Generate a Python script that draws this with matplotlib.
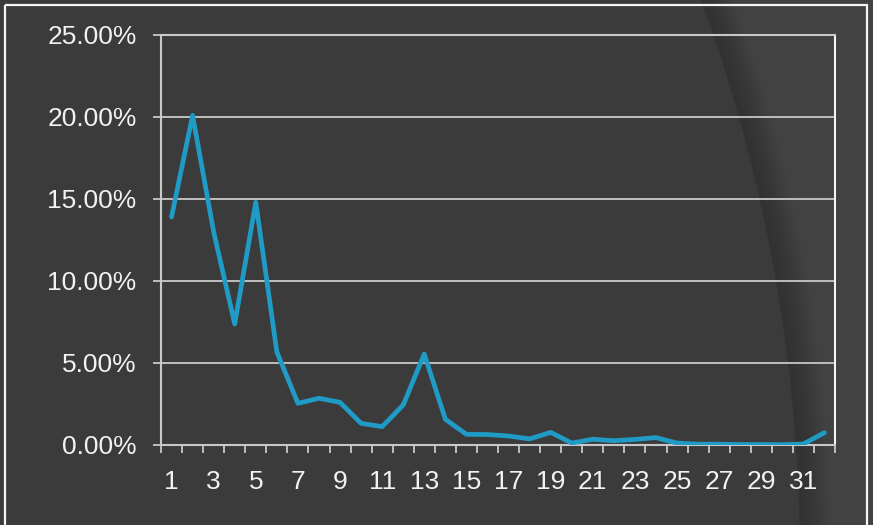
import numpy as np
import matplotlib
matplotlib.use("Agg")
import matplotlib.pyplot as plt
from matplotlib.patches import Circle, Rectangle
from matplotlib.ticker import FuncFormatter, FixedLocator


# ==============================
# DATA
# ==============================
categories = list(range(1, 33))
share = [
    0.1390, 0.2010, 0.1300, 0.0738, 0.1480, 0.0568, 0.0254, 0.0285,
    0.0260, 0.0132, 0.0112, 0.0244, 0.0555, 0.0157, 0.0065, 0.0064,
    0.0055, 0.0037, 0.0077, 0.0012, 0.0035, 0.0026, 0.0034, 0.0045,
    0.0012, 0.0005, 0.0005, 0.0003, 0.0003, 0.0002, 0.0006, 0.0075,
]
x_labels = [str(c) for c in categories[::2]]
y_ticks = [0.0, 0.05, 0.10, 0.15, 0.20, 0.25]

# ==============================
# STYLE
# ==============================
BG_LIGHT = "#424242"
BG_DARK = "#3b3b3b"
LINE_COLOR = "#1f9bc6"
GRID_COLOR = "#c8c8c8"
TEXT_COLOR = "#f2f2f2"
FONT_SIZE = 19

plt.rcParams["font.family"] = ["Liberation Sans", "DejaVu Sans"]

W, H = 873, 525
fig = plt.figure(figsize=(W / 100, H / 100), dpi=100, facecolor=BG_LIGHT)

# background axes in pixel units (y down), behind everything
bg = fig.add_axes([0, 0, 1, 1], zorder=-5)
bg.set_xlim(0, W)
bg.set_ylim(H, 0)
bg.set_axis_off()
bg.set_facecolor(BG_LIGHT)

# big arc: darker inside the circle, soft shadow along its edge
cx, cy, R = -835, 560, 1665
for i in range(10):
    bg.add_patch(Circle((cx, cy), R - i * 3, facecolor="#2c2c2c",
                        edgecolor="none", alpha=0.09))
bg.add_patch(Circle((cx, cy), R - 30, facecolor=BG_DARK, edgecolor="none"))

# white frame around the chart
bg.add_patch(Rectangle((5, 5), 866.5 - 5, H + 20, fill=False,
                       edgecolor="#f5f5f5", linewidth=1.6, clip_on=False))

ax = fig.add_axes([161 / W, 80 / H, (835 - 161) / W, (445 - 35) / H], zorder=1)
ax.set_facecolor("none")

ax.plot(categories, share, color=LINE_COLOR, linewidth=3.4,
        solid_capstyle="round", solid_joinstyle="round", zorder=3)

ax.set_xlim(0.5, 32.5)
ax.set_ylim(0, 0.25)

# y axis
ax.set_yticks(y_ticks)
ax.yaxis.set_major_formatter(FuncFormatter(lambda v, _: f"{v * 100:.2f}%"))
ax.grid(axis="y", color=GRID_COLOR, linewidth=1.3, zorder=1)
ax.tick_params(axis="y", colors=GRID_COLOR, labelcolor=TEXT_COLOR,
               labelsize=FONT_SIZE, length=5.5, width=1.3, pad=12,
               direction="out")

# x axis: labels on odd categories, tick marks between categories
ax.xaxis.set_major_locator(FixedLocator(categories[::2]))
ax.set_xticklabels(x_labels)
ax.xaxis.set_minor_locator(FixedLocator(np.arange(0.5, 33, 1)))
ax.tick_params(axis="x", which="major", length=0, labelcolor=TEXT_COLOR,
               labelsize=FONT_SIZE, pad=18)
ax.tick_params(axis="x", which="minor", colors=GRID_COLOR, length=5.5,
               width=1.3, direction="out")

for side in ["left", "bottom", "right", "top"]:
    ax.spines[side].set_color(GRID_COLOR)
    ax.spines[side].set_linewidth(1.5)
ax.spines["right"].set_color("#f5f5f5")

fig.savefig("out.png", dpi=100, facecolor=fig.get_facecolor())
